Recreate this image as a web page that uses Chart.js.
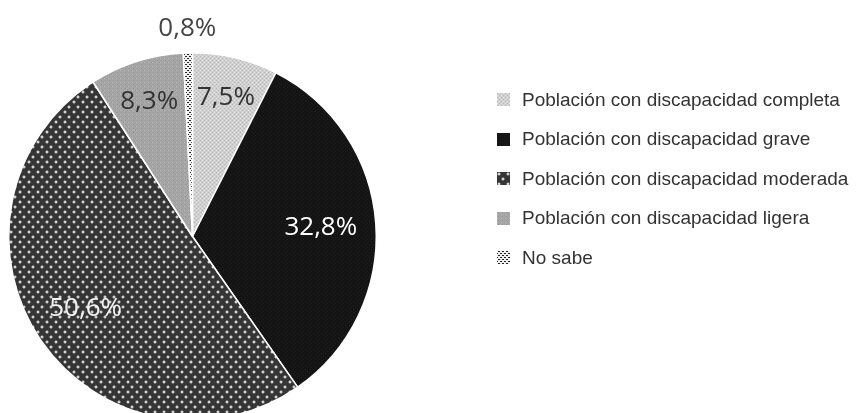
<!DOCTYPE html>
<html>
<head>
<meta charset="utf-8">
<script src="https://cdn.jsdelivr.net/npm/chart.js@4.4.0/dist/chart.umd.min.js"></script>
<style>
  html, body { margin: 0; padding: 0; background: #fff; }
  #wrap { position: relative; width: 856px; height: 413px; overflow: hidden; }
  #pie { position: absolute; left: 0; top: 0; width: 400px; height: 430px; }
  #legend { position: absolute; left: 497px; top: 80px; font-family: "Liberation Sans", Arial, sans-serif;
            font-size: 19px; color: #333; }
  #legend div { height: 39.5px; display: flex; align-items: center; }
  #legend canvas { width: 13px; height: 13px; margin-right: 12px; }
</style>
</head>
<body>
<div id="wrap">
  <div id="pie"><canvas id="c"></canvas></div>
  <div id="legend"></div>
</div>
<script>
(function () {
  'use strict';
  /* données */
  const categories = [
    'Población con discapacidad completa',
    'Población con discapacidad grave',
    'Población con discapacidad moderada',
    'Población con discapacidad ligera',
    'No sabe'
  ];
  const values = [7.5, 32.8, 50.6, 8.3, 0.8];
  const valueLabels = ['7,5%', '32,8%', '50,6%', '8,3%', '0,8%'];

  /* motifs de remplissage (imitation des trames grises) */
  function pattern(w, h, draw) {
    const cv = document.createElement('canvas');
    cv.width = w; cv.height = h;
    draw(cv.getContext('2d'));
    return cv;
  }
  const tiles = [
    pattern(4, 4, g => { g.fillStyle = '#d0d0d0'; g.fillRect(0, 0, 4, 4);
      g.fillStyle = '#b9b9b9'; g.fillRect(0, 0, 1, 1); g.fillRect(2, 2, 1, 1);
      g.fillStyle = '#e2e2e2'; g.fillRect(2, 0, 1, 1); g.fillRect(0, 2, 1, 1); }),
    pattern(4, 4, g => { g.fillStyle = '#141414'; g.fillRect(0, 0, 4, 4);
      g.fillStyle = '#1f1f1f'; g.fillRect(1, 1, 1, 1); g.fillRect(3, 3, 1, 1); }),
    pattern(9, 10, g => { g.fillStyle = '#353535'; g.fillRect(0, 0, 9, 10);
      g.fillStyle = '#6c6c6c'; g.fillRect(1, 0, 2, 1); g.fillRect(1, 3, 2, 1);
      g.fillRect(0, 1, 1, 2); g.fillRect(3, 1, 1, 2);
      g.fillRect(5, 5, 2, 1); g.fillRect(5, 8, 2, 1); g.fillRect(4, 6, 1, 2); g.fillRect(7, 6, 1, 2);
      g.fillStyle = '#d2d2d2'; g.fillRect(1, 1, 2, 2); g.fillRect(5, 6, 2, 2); }),
    pattern(4, 4, g => { g.fillStyle = '#a6a6a6'; g.fillRect(0, 0, 4, 4);
      g.fillStyle = '#979797'; g.fillRect(1, 0, 1, 1); g.fillRect(3, 2, 1, 1);
      g.fillStyle = '#b6b6b6'; g.fillRect(0, 2, 1, 1); }),
    pattern(4, 4, g => { g.fillStyle = '#f0f0f0'; g.fillRect(0, 0, 4, 4);
      g.fillStyle = '#222'; g.fillRect(1, 0, 2, 1); g.fillRect(0, 2, 1, 1); g.fillRect(3, 2, 1, 1); })
  ];
  const ctx0 = document.createElement('canvas').getContext('2d');
  const fills = tiles.map(t => ctx0.createPattern(t, 'repeat'));

  /* étiquettes de valeurs : milieu de l'arc, rayon relatif */
  const labelStyle = [
    { r: .78, color: '#333' },
    { r: .70, color: '#fff' },
    { r: .70, color: '#f2f2f2' },
    { r: .77, color: '#333' },
    { r: 1.13, color: '#444' }
  ];
  const valueLabelPlugin = {
    id: 'valueLabels',
    afterDatasetsDraw(chart) {
      const { ctx } = chart;
      chart.getDatasetMeta(0).data.forEach((arc, i) => {
        const s = labelStyle[i];
        const a = (arc.startAngle + arc.endAngle) / 2;
        const rr = arc.outerRadius * s.r;
        ctx.save();
        ctx.font = '26px "Open Sans", "Noto Sans", sans-serif';
        ctx.fillStyle = s.color;
        ctx.textAlign = 'center'; ctx.textBaseline = 'middle';
        ctx.fillText(valueLabels[i], arc.x + Math.cos(a) * rr, arc.y + Math.sin(a) * rr);
        ctx.restore();
      });
    }
  };

  new Chart(document.getElementById('c'), {
    type: 'pie',
    data: { labels: categories, datasets: [{ data: values, backgroundColor: fills,
      borderColor: '#fff', borderWidth: 1.5 }] },
    options: {
      responsive: true, maintainAspectRatio: false, animation: false,
      layout: { padding: { left: 8, top: 52, right: 23, bottom: 9 } },
      plugins: { legend: { display: false }, tooltip: { enabled: false } }
    },
    plugins: [valueLabelPlugin]
  });

  /* légende HTML */
  const lg = document.getElementById('legend');
  categories.forEach((name, i) => {
    const row = document.createElement('div');
    const sw = document.createElement('canvas');
    sw.width = 13; sw.height = 13;
    const g = sw.getContext('2d');
    g.fillStyle = g.createPattern(tiles[i], 'repeat');
    g.fillRect(0, 0, 13, 13);
    row.appendChild(sw);
    row.appendChild(document.createTextNode(name));
    lg.appendChild(row);
  });
})();
</script>
</body>
</html>
